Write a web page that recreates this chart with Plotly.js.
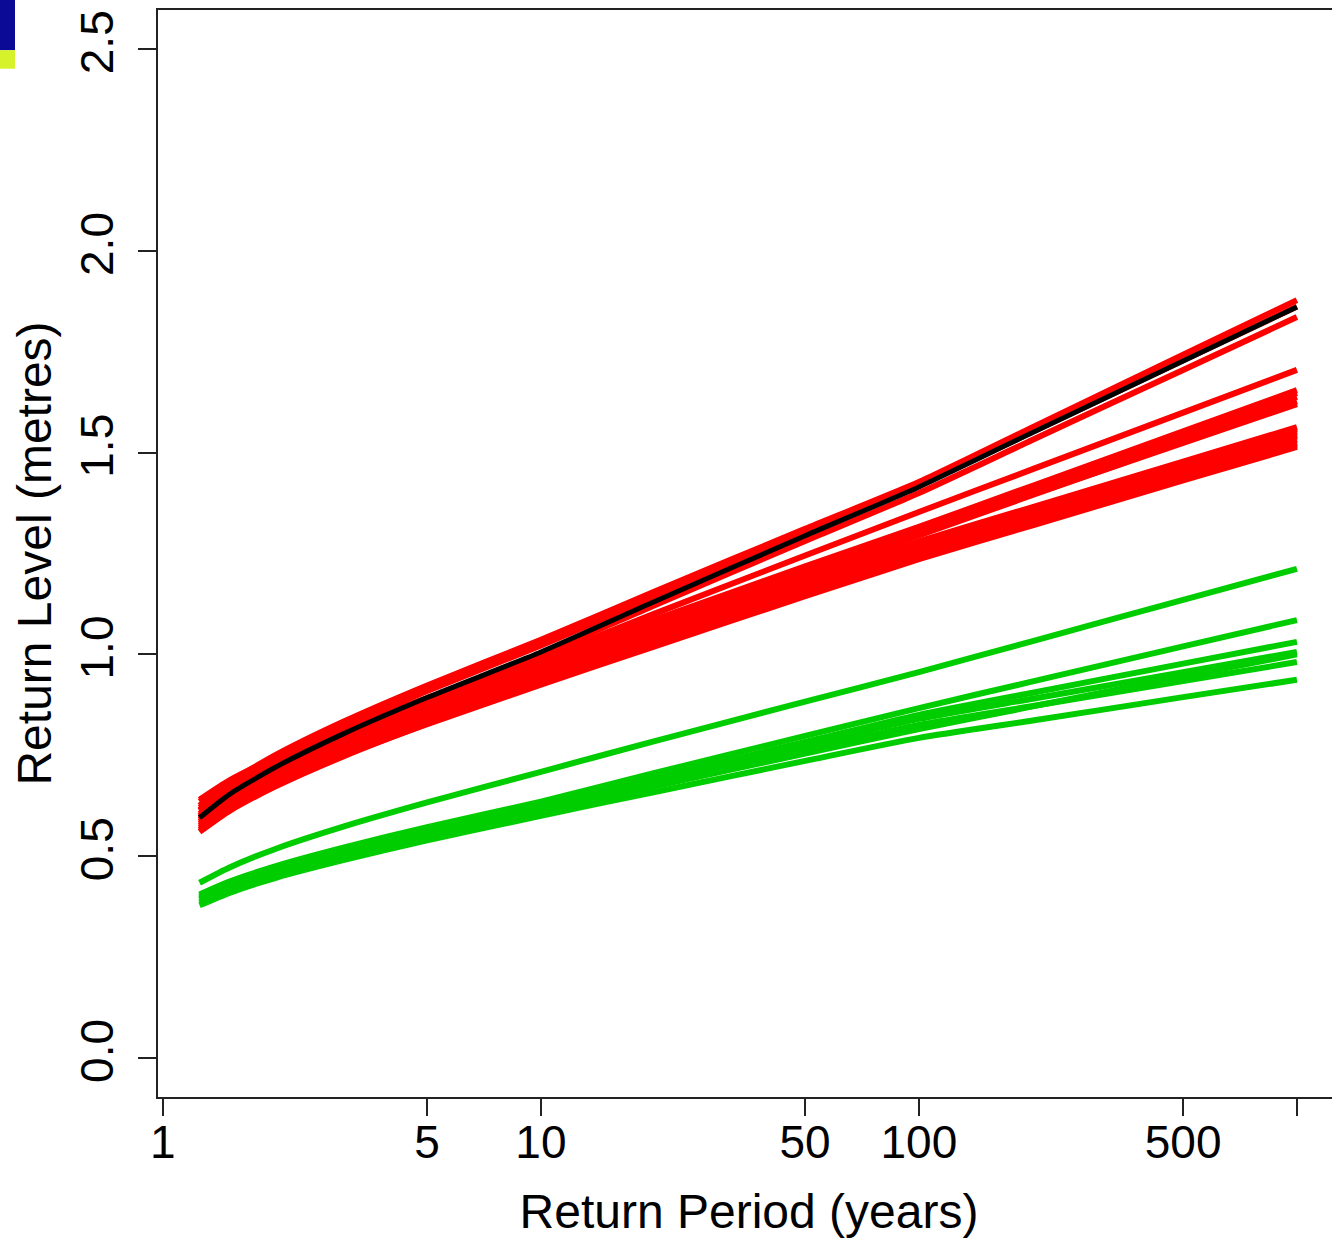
<!DOCTYPE html>
<html>
<head>
<meta charset="utf-8">
<script src="https://cdn.plot.ly/plotly-3.0.1.min.js"></script>
<style>
html,body{margin:0;padding:0;overflow:hidden;background:#fff;}
#chart{width:1340px;height:1242px;}
</style>
</head>
<body>
<div id="chart"></div>
<script>
// Return periods (years)
const returnPeriods = [1.25, 1.5, 2, 3, 5, 10, 20, 50, 100, 200, 500, 1000];

// Observed / fitted curve (black)
const blackCurve = [0.595,0.653,0.722,0.803,0.893,1.006,1.131,1.294,1.415,1.550,1.727,1.861];

// Red ensemble
const red01 = [0.625,0.683,0.752,0.833,0.923,1.036,1.156,1.311,1.427,1.563,1.743,1.878];
const red02 = [0.612,0.669,0.739,0.819,0.909,1.022,1.143,1.300,1.418,1.552,1.729,1.862];
const red03 = [0.600,0.656,0.724,0.802,0.890,1.000,1.122,1.281,1.400,1.532,1.705,1.836];
const red04 = [0.600,0.655,0.721,0.797,0.883,0.990,1.101,1.245,1.353,1.459,1.599,1.705];
const red05 = [0.615,0.667,0.729,0.802,0.883,0.985,1.086,1.218,1.316,1.418,1.553,1.655];
const red06 = [0.595,0.648,0.712,0.787,0.871,0.975,1.078,1.211,1.310,1.412,1.547,1.648];
const red07 = [0.585,0.639,0.704,0.780,0.864,0.970,1.071,1.202,1.300,1.402,1.537,1.638];
const red08 = [0.605,0.656,0.717,0.789,0.868,0.968,1.068,1.198,1.295,1.395,1.527,1.627];
const red09 = [0.590,0.643,0.706,0.780,0.862,0.965,1.061,1.186,1.280,1.365,1.478,1.563];
const red10 = [0.640,0.688,0.745,0.812,0.887,0.980,1.071,1.189,1.278,1.363,1.474,1.558];
const red11 = [0.575,0.628,0.692,0.767,0.851,0.955,1.051,1.176,1.270,1.355,1.467,1.552];
const red12 = [0.600,0.649,0.708,0.777,0.854,0.950,1.046,1.171,1.265,1.350,1.461,1.545];
const red13 = [0.565,0.618,0.682,0.757,0.841,0.945,1.041,1.165,1.258,1.343,1.455,1.540];
const red14 = [0.580,0.630,0.690,0.761,0.839,0.937,1.033,1.157,1.250,1.335,1.447,1.532];
const red15 = [0.560,0.612,0.674,0.747,0.828,0.930,1.026,1.151,1.245,1.330,1.441,1.525];
const red16 = [0.620,0.667,0.724,0.791,0.865,0.958,1.049,1.164,1.255,1.335,1.441,1.520];
const red17 = [0.570,0.620,0.680,0.750,0.827,0.925,1.020,1.144,1.236,1.320,1.431,1.514];
const red18 = [0.635,0.685,0.745,0.815,0.892,0.990,1.085,1.208,1.300,1.397,1.524,1.620];

// Green ensemble
const green1 = [0.434,0.472,0.519,0.573,0.633,0.709,0.785,0.883,0.956,1.033,1.135,1.212];
const green2 = [0.405,0.437,0.476,0.521,0.572,0.635,0.706,0.798,0.867,0.933,1.020,1.085];
const green3 = [0.395,0.427,0.466,0.511,0.562,0.625,0.694,0.783,0.850,0.905,0.977,1.031];
const green4 = [0.400,0.431,0.468,0.511,0.560,0.620,0.687,0.775,0.840,0.890,0.956,1.006];
const green5 = [0.385,0.417,0.456,0.501,0.552,0.615,0.679,0.763,0.825,0.872,0.934,0.981];
const green6 = [0.378,0.409,0.447,0.490,0.539,0.600,0.659,0.736,0.793,0.836,0.894,0.937];
const green7 = [0.392,0.423,0.459,0.502,0.550,0.610,0.673,0.754,0.815,0.871,0.945,1.000];

const xTickVals = [1, 5, 10, 50, 100, 500, 1000];
const xTickText = ["1", "5", "10", "50", "100", "500", ""];
const yTickVals = [0, 0.5, 1, 1.5, 2, 2.5];
const yTickText = ["0.0", "0.5", "1.0", "1.5", "2.0", "2.5"];

const redSeries = [red01,red02,red03,red04,red05,red06,red07,red08,red09,red10,red11,red12,red13,red14,red15,red16,red17,red18];
const greenSeries = [green1,green2,green3,green4,green5,green6,green7];

const traces = [];
greenSeries.forEach((ys, i) => traces.push({
  x: returnPeriods, y: ys, type: 'scatter', mode: 'lines',
  line: {color: '#00CD00', width: 6, shape: 'spline', smoothing: 0.6},
  name: 'green ' + (i + 1), showlegend: false, hoverinfo: 'x+y'
}));
redSeries.forEach((ys, i) => traces.push({
  x: returnPeriods, y: ys, type: 'scatter', mode: 'lines',
  line: {color: '#FF0000', width: 6, shape: 'spline', smoothing: 0.6},
  name: 'red ' + (i + 1), showlegend: false, hoverinfo: 'x+y'
}));
traces.push({
  x: returnPeriods, y: blackCurve, type: 'scatter', mode: 'lines',
  line: {color: '#000000', width: 5, shape: 'spline', smoothing: 0.6},
  name: 'fitted', showlegend: false, hoverinfo: 'x+y'
});

const font = {family: '"Liberation Sans", Arial, Helvetica, sans-serif', color: '#000'};

const layout = {
  width: 1340, height: 1242,
  margin: {l: 158, r: 0, t: 10, b: 145, pad: 0},
  paper_bgcolor: '#ffffff', plot_bgcolor: '#ffffff',
  showlegend: false,
  font: Object.assign({size: 46}, font),
  xaxis: {
    type: 'log', range: [-0.013, 3.114],
    tickvals: xTickVals, ticktext: xTickText,
    ticks: 'outside', ticklen: 17, tickwidth: 2, tickcolor: '#222',
    showline: true, linecolor: '#222', linewidth: 2, mirror: true,
    showgrid: false, zeroline: false,
    tickfont: Object.assign({size: 46}, font),
    ticklabelstandoff: -13,
    title: {text: 'Return Period (years)', font: Object.assign({size: 48}, font), standoff: 27},
    automargin: false
  },
  yaxis: {
    range: [-0.097, 2.597],
    tickvals: yTickVals, ticktext: yTickText, tickangle: -90,
    ticks: 'outside', ticklen: 18, tickwidth: 2, tickcolor: '#222',
    showline: true, linecolor: '#222', linewidth: 2, mirror: true,
    showgrid: false, zeroline: false,
    tickfont: Object.assign({size: 46}, font),
    ticklabelstandoff: 7,
    title: {text: 'Return Level (metres)', font: Object.assign({size: 48}, font), standoff: 4},
    automargin: false
  },
  shapes: [
    {type: 'rect', xref: 'paper', yref: 'paper', x0: -0.1337, x1: -0.121, y0: 0.963, y1: 1.0092,
     fillcolor: '#0A0A96', line: {width: 0}, layer: 'above'},
    {type: 'rect', xref: 'paper', yref: 'paper', x0: -0.1337, x1: -0.121, y0: 0.946, y1: 0.963,
     fillcolor: '#D6F22A', line: {width: 0}, layer: 'above'}
  ]
};

Plotly.newPlot('chart', traces, layout, {displayModeBar: false, staticPlot: true});
</script>
</body>
</html>
